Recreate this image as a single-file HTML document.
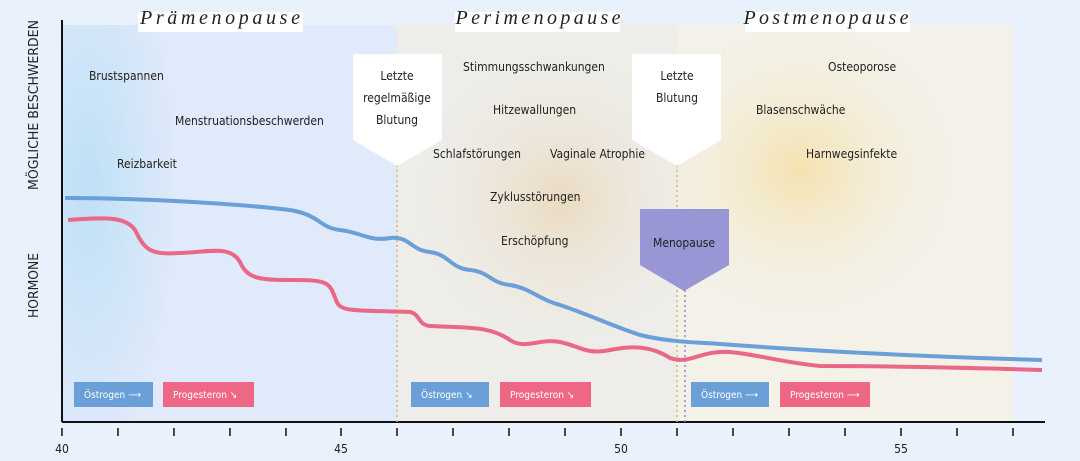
<!DOCTYPE html>
<html><head><meta charset="utf-8"><style>
body{margin:0;width:1080px;height:456px;background:#e9f1fd;overflow:hidden;font-family:"Liberation Sans",sans-serif}
svg text{font-family:"DejaVu Sans Condensed","Liberation Sans",sans-serif}
</style></head><body>
<svg width="1080" height="456" viewBox="0 0 1080 456">
<defs>
<radialGradient id="bl" cx="0.2" cy="0.4" r="0.7"><stop offset="0" stop-color="#bfe0f6"/><stop offset="1" stop-color="#e0eafa"/></radialGradient>
<radialGradient id="tan" cx="0.5" cy="0.5" r="0.5"><stop offset="0" stop-color="#ead6b6" stop-opacity="0.8"/><stop offset="1" stop-color="#ece8e0" stop-opacity="0"/></radialGradient>
<radialGradient id="yl" cx="0.5" cy="0.5" r="0.5"><stop offset="0" stop-color="#f6dea0" stop-opacity="0.8"/><stop offset="1" stop-color="#f3f1ea" stop-opacity="0"/></radialGradient>
</defs>
<rect x="62" y="25" width="335" height="397" fill="#e0eafa"/>
<rect x="62" y="25" width="130" height="397" fill="url(#bl)"/>
<rect x="397" y="25" width="280" height="397" fill="#eeede9"/>
<rect x="677" y="25" width="336" height="397" fill="#f3f1e8"/>
<ellipse cx="560" cy="200" rx="150" ry="150" fill="url(#tan)"/>
<ellipse cx="800" cy="170" rx="170" ry="160" fill="url(#yl)"/>
<rect x="138" y="12" width="165" height="20" fill="#fff"/>
<rect x="455" y="12" width="165" height="20" fill="#fff"/>
<rect x="745" y="12" width="165" height="20" fill="#fff"/>
<g font-style="italic" font-size="20" fill="#222" text-anchor="middle">
<text x="220" y="24" textLength="160" style="font-family:'Liberation Serif',serif">Prämenopause</text><text x="538" y="24" textLength="165" style="font-family:'Liberation Serif',serif">Perimenopause</text><text x="826" y="24" textLength="165" style="font-family:'Liberation Serif',serif">Postmenopause</text></g>
<line x1="62" y1="20" x2="62" y2="422" stroke="#111" stroke-width="2"/>
<line x1="62" y1="422" x2="1045" y2="422" stroke="#111" stroke-width="2"/>
<g stroke="#111" stroke-width="1.5">
<path d="M62 428v8M118 428v8M174 428v8M230 428v8M286 428v8M341 428v8M397 428v8M453 428v8M509 428v8M565 428v8M621 428v8M677 428v8M733 428v8M789 428v8M845 428v8M901 428v8M957 428v8M1013 428v8"/></g>
<g font-size="12" fill="#222" text-anchor="middle"><text x="62" y="453">40</text><text x="341" y="453">45</text><text x="621" y="453">50</text><text x="901" y="453">55</text></g>
<g font-size="13" fill="#222">
<text transform="translate(38,190) rotate(-90)" textLength="170" lengthAdjust="spacingAndGlyphs">MÖGLICHE BESCHWERDEN</text>
<text transform="translate(38,318) rotate(-90)" textLength="65" lengthAdjust="spacingAndGlyphs">HORMONE</text></g>
<line x1="397" y1="165" x2="397" y2="422" stroke="#e0b070" stroke-width="1.5" stroke-dasharray="2,3"/>
<line x1="677" y1="165" x2="677" y2="422" stroke="#e0b070" stroke-width="1.5" stroke-dasharray="2,3"/>
<line x1="685" y1="290" x2="685" y2="422" stroke="#8a88cc" stroke-width="1.5" stroke-dasharray="2,3"/>
<path d="M353 54H442V140L397 166L353 140Z" fill="#fff"/>
<path d="M632 54H721V140L677 166L632 140Z" fill="#fff"/>
<path d="M640 209H729V265L684 291L640 265Z" fill="#9896d4"/>
<g font-size="12" fill="#222" text-anchor="middle">
<text x="397" y="80">Letzte</text><text x="397" y="102">regelmäßige</text><text x="397" y="124">Blutung</text>
<text x="677" y="80">Letzte</text><text x="677" y="102">Blutung</text>
<text x="684" y="247">Menopause</text></g>
<g font-size="12" fill="#222">
<text x="89" y="80">Brustspannen</text><text x="175" y="125">Menstruationsbeschwerden</text><text x="117" y="168">Reizbarkeit</text>
<text x="463" y="71">Stimmungsschwankungen</text><text x="493" y="114">Hitzewallungen</text>
<text x="433" y="158">Schlafstörungen</text><text x="550" y="158">Vaginale Atrophie</text>
<text x="490" y="201">Zyklusstörungen</text><text x="501" y="245">Erschöpfung</text>
<text x="828" y="71">Osteoporose</text><text x="756" y="114">Blasenschwäche</text><text x="806" y="158">Harnwegsinfekte</text></g>
<path d="M65 198C150 198 250 205 290 210C320 215 320 228 340 230C360 232 370 242 390 238C410 236 410 250 430 252C450 255 450 268 470 270C490 272 490 283 510 285C530 288 540 300 560 305C590 315 610 325 640 335C670 342 690 342 720 344C800 350 900 356 1042 360" fill="none" stroke="#6a9fd8" stroke-width="4"/>
<path d="M68 220C100 218 125 215 135 230C145 250 150 255 180 253C210 252 230 245 240 262C248 280 260 280 300 280C330 280 330 285 336 300C340 312 350 310 410 312C420 314 418 325 430 326C470 328 490 326 510 340C525 350 540 338 560 342C580 346 585 355 610 350C630 346 650 345 670 358C690 365 700 350 730 352C760 355 780 362 820 366C900 366 980 368 1042 370" fill="none" stroke="#ea6785" stroke-width="4"/>
<g font-size="10" fill="#fff">
<rect x="74" y="382" width="79" height="25" fill="#6a9fd8"/><text x="84" y="398">Östrogen ⟶</text>
<rect x="163" y="382" width="91" height="25" fill="#ee6785"/><text x="173" y="398">Progesteron ↘</text>
<rect x="411" y="382" width="78" height="25" fill="#6a9fd8"/><text x="421" y="398">Östrogen ↘</text>
<rect x="500" y="382" width="91" height="25" fill="#ee6785"/><text x="510" y="398">Progesteron ↘</text>
<rect x="691" y="382" width="78" height="25" fill="#6a9fd8"/><text x="701" y="398">Östrogen ⟶</text>
<rect x="780" y="382" width="90" height="25" fill="#ee6785"/><text x="790" y="398">Progesteron ⟶</text></g>
</svg>
</body></html>
